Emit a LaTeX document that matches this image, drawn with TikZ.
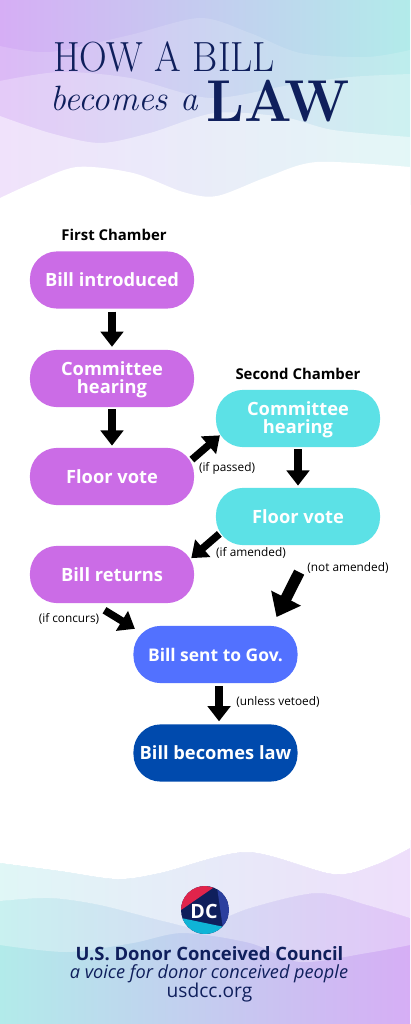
\documentclass[tikz,border=0pt]{standalone}
\usepackage{fontspec}
\usepackage{tikz}
\usetikzlibrary{arrows.meta}
\setsansfont{Open Sans}
\definecolor{navy}{HTML}{0F1F5C}
\definecolor{lilac}{HTML}{CB6CE6}
\definecolor{aqua}{HTML}{5CE1E6}
\definecolor{bluebox}{HTML}{5271FF}
\definecolor{deepblue}{HTML}{004AAD}
\definecolor{bandpurple}{HTML}{D6AEF5}
\definecolor{bandmid}{HTML}{C8CBF4}
\definecolor{bandcyan}{HTML}{B2EBEA}
\definecolor{logored}{HTML}{E0244B}
\definecolor{logoblue}{HTML}{2B3F9E}
\definecolor{logocyan}{HTML}{0FB4D6}
\tikzset{
  billbox/.style={rounded corners=0.68cm,minimum width=4.1cm,minimum height=1.43cm,inner sep=0pt,
    text=white,align=center,font=\sffamily\bfseries\fontsize{13}{12.8}\selectfont},
  blockarrow/.style={line width=0.185cm,-{Triangle[length=0.38cm,width=0.56cm]}},
  bigarrow/.style={line width=0.28cm,-{Triangle[length=0.53cm,width=0.8cm]}},
  note/.style={inner sep=0pt,font=\sffamily\fontsize{8.4}{8.4}\selectfont},
  chamber/.style={inner sep=0pt,font=\sffamily\bfseries\fontsize{10.6}{10.6}\selectfont},
  wave/.style={fill=white,fill opacity=#1},
}
\begin{document}
\begin{tikzpicture}[x=0.025cm,y=-0.025cm]
\useasboundingbox (0,0) rectangle (410,1024);
% top band
\shade[left color=bandpurple,middle color=bandmid,right color=bandcyan] (0,0) rectangle (410,205);
\fill[wave=.15] plot[smooth] coordinates {(0,46) (50,52) (130,35) (200,18) (250,33) (300,53) (367,57) (410,50)} -- (410,205) -- (0,205) -- cycle;
\fill[wave=.25] plot[smooth] coordinates {(0,81) (60,72) (130,78) (210,98) (290,85) (350,77) (410,74)} -- (410,205) -- (0,205) -- cycle;
\fill[wave=.45] plot[smooth] coordinates {(0,116) (50,133) (100,143) (150,133) (215,113) (283,117) (333,130) (410,137)} -- (410,205) -- (0,205) -- cycle;
\fill[white] plot[smooth] coordinates {(0,198) (33,183) (77,167) (133,173) (183,192) (217,196) (267,177) (317,162) (410,167)} -- (410,206) -- (0,206) -- cycle;
% bottom band
\shade[left color=bandcyan,middle color=bandmid,right color=bandpurple] (0,840) rectangle (410,1024);
\fill[white] plot[smooth] coordinates {(0,863) (60,871) (117,879) (160,873) (247,852) (333,874) (375,865) (410,848)} -- (410,839) -- (0,839) -- cycle;
\fill[wave=.6] plot[smooth] coordinates {(0,863) (60,871) (117,879) (160,873) (247,852) (333,874) (375,865) (410,848)} -- plot[smooth] coordinates {(410,918) (367,905) (317,893) (250,908) (200,927) (167,922) (100,905) (50,898) (0,901)} -- cycle;
\fill[wave=.3] plot[smooth] coordinates {(0,901) (50,898) (100,905) (167,922) (200,927) (250,908) (317,893) (367,905) (410,918)} -- plot[smooth] coordinates {(410,945) (367,953) (300,962) (250,943) (183,933) (133,943) (67,952) (0,945)} -- cycle;
% title
\node[anchor=base west,inner sep=0pt,text=navy,xscale=.91,transform shape,font=\fontsize{30}{30}\selectfont] (howbill) at (53,72) {HOW A BILL};
\node[anchor=base west,inner sep=0pt,text=navy,font=\itshape\fontsize{25}{25}\selectfont] (becomes) at (50,111) {becomes a};
\node[anchor=base west,inner sep=0pt,text=navy,xscale=.95,transform shape,font=\bfseries\fontsize{42}{42}\selectfont] (lawword) at (206,122) {LAW};
% chamber headings
\node[chamber] (firsthead) at (114,235) {First Chamber};
\node[chamber] (secondhead) at (298,374) {Second Chamber};
% boxes
\node[billbox,fill=lilac] (introduced) at (112,280) {Bill introduced};
\node[billbox,fill=lilac] (hearingA) at (112,378.5) {\rule{0pt}{12pt}Committee\\hearing};
\node[billbox,fill=lilac] (floorA) at (112,476.5) {Floor vote};
\node[billbox,fill=lilac] (returns) at (112,574.5) {Bill returns};
\node[billbox,fill=aqua] (hearingB) at (298,418.5) {\rule{0pt}{12pt}Committee\\hearing};
\node[billbox,fill=aqua] (floorB) at (298,516.5) {Floor vote};
\node[billbox,fill=bluebox,font=\sffamily\bfseries\fontsize{12.4}{12.8}\selectfont] (sent) at (215.5,654.5) {Bill sent to Gov.};
\node[billbox,fill=deepblue] (becomeslaw) at (215.5,753) {Bill becomes law};
% arrows
\draw[blockarrow,shorten <=0.07cm,shorten >=0.07cm] (introduced.south) -- (hearingA.north);
\draw[blockarrow,shorten <=0.05cm,shorten >=0.05cm] (hearingA.south) -- (floorA.north);
\draw[blockarrow,shorten <=0.05cm,shorten >=0.05cm] (hearingB.south) -- (floorB.north);
\draw[blockarrow,shorten <=-0.08cm,shorten >=-0.14cm] (floorA.13) -- (hearingB.194);
\draw[blockarrow,shorten <=-0.12cm,shorten >=-0.1cm] (floorB.194) -- (returns.13);
\draw[blockarrow,shorten <=0.33cm,shorten >=-0.05cm] (returns.237.7) -- (sent.162.8);
\draw[bigarrow,shorten <=0.75cm,shorten >=0.24cm] (floorB.297) -- (sent.27.7);
\draw[blockarrow,shorten <=0.07cm,shorten >=0.07cm] (sent.-83) -- (becomeslaw.83);
% notes
\node[note] (ifpassed) at (227,468) {(if passed)};
\node[note] (ifamended) at (251,553) {(if amended)};
\node[note] (notamended) at (348,568) {(not amended)};
\node[note] (ifconcurs) at (69,619) {(if concurs)};
\node[note] (unlessvetoed) at (278,702) {(unless vetoed)};
% logo
\begin{scope}
\clip (205,910) circle (24);
\fill[navy] (181,886) rectangle (229,934);
\fill[logored] (181,910) -- (213.3,887.7) -- (181,880) -- cycle;
\fill[logoblue] (216.7,885) -- (223.5,932) -- (235,932) -- (235,885) -- cycle;
\fill[logocyan] (181,918) -- (223,926.7) -- (223,940) -- (181,940) -- cycle;
\end{scope}
\node[inner sep=0pt,text=white,font=\sffamily\bfseries\fontsize{14}{14}\selectfont] (logotext) at (204,911) {DC};
% footer
\node[inner sep=0pt,text=navy,font=\sffamily\bfseries\fontsize{13.1}{13}\selectfont] (council) at (209.5,954) {U.S. Donor Conceived Council};
\node[inner sep=0pt,text=navy,font=\sffamily\itshape\fontsize{12.9}{12}\selectfont] (voice) at (209,973.5) {a voice for donor conceived people};
\node[inner sep=0pt,text=navy,font=\sffamily\fontsize{13.6}{13}\selectfont] (website) at (209.5,993) {usdcc.org};
\end{tikzpicture}
\end{document}
